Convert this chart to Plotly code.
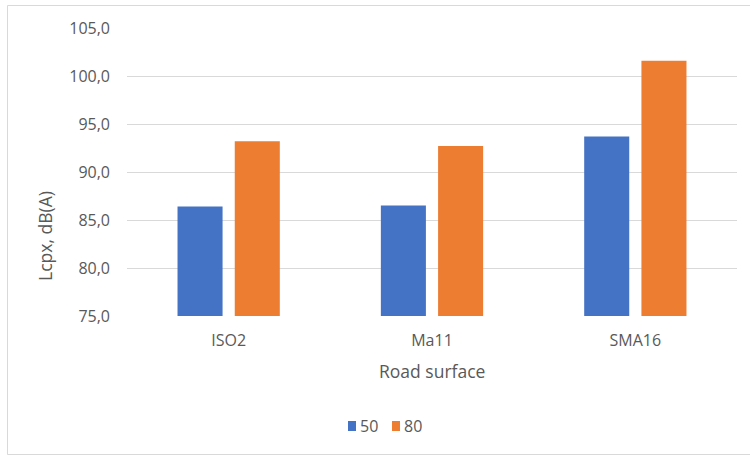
import plotly.graph_objects as go

# Pass-by noise levels per road surface, for two vehicle speeds (km/h)
surfaces = ["ISO2", "Ma11", "SMA16"]
speed_50 = [86.4, 86.5, 93.7]
speed_80 = [93.2, 92.7, 101.6]
series_names = ["50", "80"]
series_colors = ["#4472C4", "#ED7D31"]

y_ticks = [75, 80, 85, 90, 95, 100, 105]

FONT = "'Open Sans', Lato, sans-serif"
TEXT_GREY = "#595959"
GRID_GREY = "#D9D9D9"

fig = go.Figure()
for name, vals, col in zip(series_names, [speed_50, speed_80], series_colors):
    fig.add_trace(go.Bar(
        x=surfaces, y=vals, name=name,
        marker=dict(color=col, line=dict(width=0)),
        hoverinfo="x+y+name",
    ))

W, H = 750, 456
L, R, T, B = 127, 13, 28, 140
pw, ph = W - L - R, H - T - B


def px_x(x):
    return (x - L) / pw


def px_y(y):
    return (H - B - y) / ph


annotations = [
    dict(text="Lcpx, dB(A)", textangle=-90, showarrow=False,
         xref="paper", yref="paper", x=px_x(45), y=px_y(236),
         xanchor="center", yanchor="middle",
         font=dict(family=FONT, size=17.5, color=TEXT_GREY)),
    dict(text="Road surface", showarrow=False,
         xref="paper", yref="paper", x=0.5, y=px_y(371),
         xanchor="center", yanchor="middle",
         font=dict(family=FONT, size=17.5, color=TEXT_GREY)),
]

shapes = [
    # chart-area frame
    dict(type="rect", xref="paper", yref="paper",
         x0=px_x(7.5), x1=px_x(755), y0=px_y(454.5), y1=px_y(5.5),
         line=dict(color=GRID_GREY, width=1), fillcolor="rgba(0,0,0,0)",
         layer="below"),
]

# compact legend below the chart: colour key square followed by the series name
legend_y = 426
legend_x0 = [348, 392]
for x0, name, col in zip(legend_x0, series_names, series_colors):
    shapes.append(dict(type="rect", xref="paper", yref="paper",
                       x0=px_x(x0), x1=px_x(x0 + 8),
                       y0=px_y(legend_y + 5), y1=px_y(legend_y - 5),
                       line=dict(width=0), fillcolor=col))
    annotations.append(dict(text=name, showarrow=False,
                            xref="paper", yref="paper",
                            x=px_x(x0 + 10), y=px_y(legend_y),
                            xanchor="left", yanchor="middle",
                            font=dict(family=FONT, size=16, color=TEXT_GREY)))

fig.update_layout(
    width=W, height=H,
    margin=dict(l=L, r=R, t=T, b=B, pad=0),
    paper_bgcolor="white", plot_bgcolor="white",
    barmode="group", bargap=0.437, bargroupgap=0.213,
    separators=", ",
    font=dict(family=FONT, size=16, color=TEXT_GREY),
    showlegend=False,
    xaxis=dict(
        showgrid=False, zeroline=False, showline=False,
        ticks="", tickfont=dict(family=FONT, size=16, color=TEXT_GREY),
        ticklabelstandoff=13,
    ),
    yaxis=dict(
        range=[75, 105], tickvals=y_ticks, tickformat=".1f",
        showgrid=True, gridcolor=GRID_GREY, gridwidth=1,
        zeroline=False, showline=False, ticks="",
        tickfont=dict(family=FONT, size=16, color=TEXT_GREY),
        ticklabelstandoff=16,
    ),
    annotations=annotations,
    shapes=shapes,
)

fig.write_html("out.html")
